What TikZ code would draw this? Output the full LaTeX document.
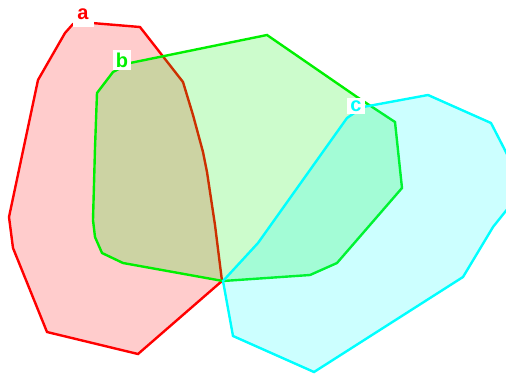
\documentclass[tikz,border=0pt]{standalone}
\usepackage{fontspec}
\setmainfont{Liberation Sans}
\begin{document}
\begin{tikzpicture}[x=1pt,y=-1pt,
  region/.style={line width=2.4pt, line join=miter, fill opacity=0.2},
  lbl/.style={fill=white, inner sep=3pt, font=\fontsize{20}{20}\selectfont\bfseries}]
\useasboundingbox (0,0) rectangle (506,373);
\clip (0,0) rectangle (506,373);
\definecolor{cr}{RGB}{255,0,0}
\definecolor{cg}{RGB}{0,240,0}
\definecolor{cc}{RGB}{0,255,255}
% region a
\draw[region, draw=cr, fill=cr] (92,23) -- (140,27) -- (183,82) -- (193,115) -- (203,152) -- (207,172) -- (215,225) -- (222,281) -- (138,354) -- (47,332) -- (13,248) -- (9,217) -- (38,80) -- (65,33) -- (73,24) -- cycle;
% region b
\draw[region, draw=cg, fill=cg] (130,63) -- (267,35) -- (357,97) -- (395,122) -- (402,188) -- (337,263) -- (310,275) -- (223,281) -- (123,263) -- (102,253) -- (95,237) -- (93,220) -- (95,148) -- (97,93) -- (113,72) -- cycle;
% region c
\draw[region, draw=cc, fill=cc] (363,107) -- (428,95) -- (491,123) -- (509,158) -- (509,207) -- (493,227) -- (463,277) -- (314,372) -- (233,336) -- (223,281) -- (258,243) -- (347,118) -- cycle;
\node[lbl, text=cr, minimum height=25pt, minimum width=21pt] (la) at (83,14) {a};
\node[lbl, text=cg] (lb) at (122,60) {b};
\node[lbl, text=cc] (lc) at (356,106) {c};
\end{tikzpicture}
\end{document}
